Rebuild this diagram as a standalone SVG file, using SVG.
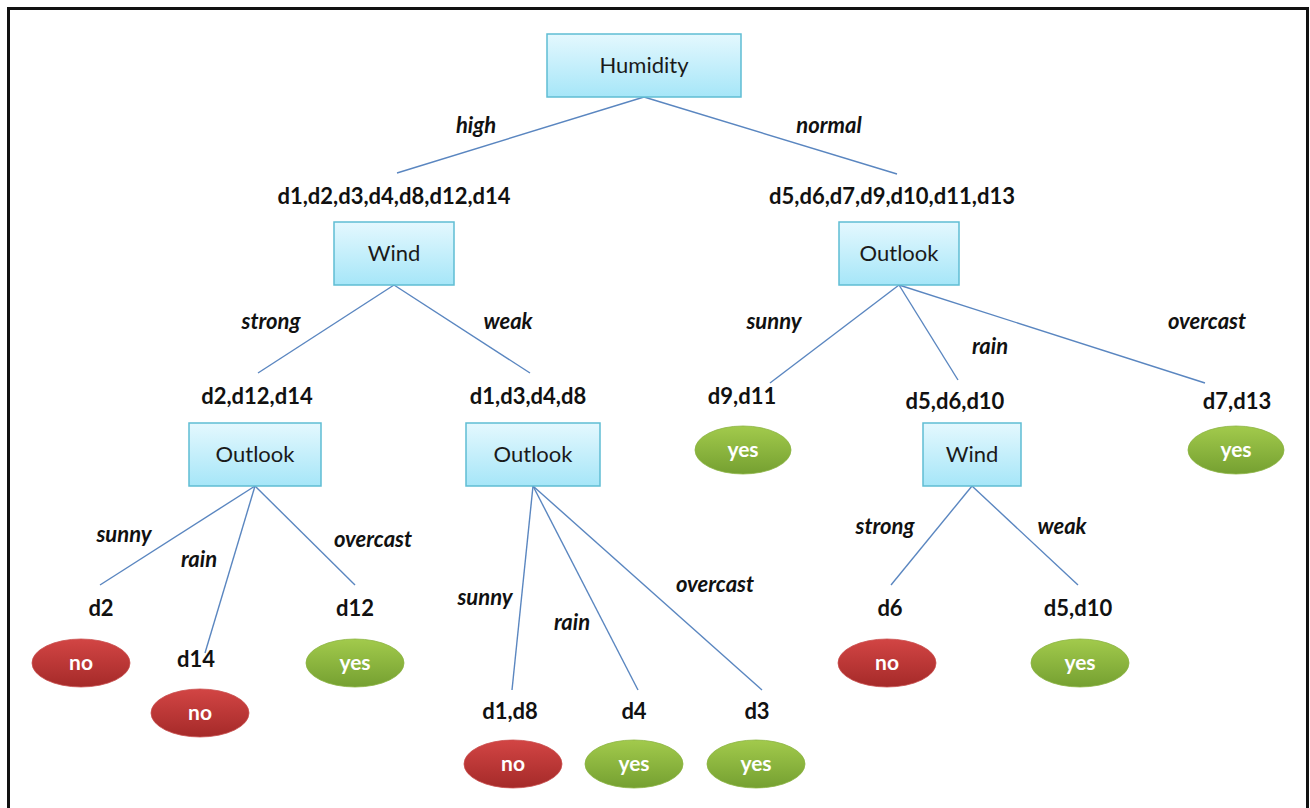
<svg xmlns="http://www.w3.org/2000/svg" width="1310" height="808" viewBox="0 0 1310 808">
  <defs>
    <linearGradient id="boxFill" x1="0" y1="0" x2="0" y2="1">
      <stop offset="0" stop-color="#e4f8fe"/>
      <stop offset="1" stop-color="#a6e6f8"/>
    </linearGradient>
    <linearGradient id="noFill" x1="0" y1="0" x2="0" y2="1">
      <stop offset="0" stop-color="#d24544"/>
      <stop offset="1" stop-color="#a52a29"/>
    </linearGradient>
    <linearGradient id="yesFill" x1="0" y1="0" x2="0" y2="1">
      <stop offset="0" stop-color="#a2ca4c"/>
      <stop offset="1" stop-color="#75a031"/>
    </linearGradient>
    <style>
      .box { fill: url(#boxFill); stroke: #5fbdd3; stroke-width: 1.5; }
      .btxt { font-family: Lato, "Open Sans", sans-serif; font-size: 22px; fill: #1a1a1a; text-anchor: middle; }
      .set { font-family: Lato, "Open Sans", sans-serif; font-size: 22px; font-weight: bold; fill: #111; text-anchor: middle; }
      .edge { font-family: Lato, "Open Sans", sans-serif; font-size: 22px; font-weight: bold; font-style: italic; fill: #111; text-anchor: middle; }
      .no { fill: url(#noFill); stroke: #c9504f; stroke-width: 0.8; }
      .yes { fill: url(#yesFill); stroke: #8bb443; stroke-width: 0.8; }
      .ltxt { font-family: Lato, "Open Sans", sans-serif; font-size: 21px; font-weight: bold; fill: #fff; text-anchor: middle; }
      .conn line { stroke: #5a86c0; stroke-width: 1.4; }
    </style>
  </defs>

  <rect width="1310" height="808" fill="#fff"/>
  <rect x="8.5" y="8.5" width="1299" height="830" fill="none" stroke="#111" stroke-width="3"/>

  <!-- connectors -->
  <g class="conn">
    <line x1="644" y1="97" x2="397" y2="173"/>
    <line x1="644" y1="97" x2="897" y2="174"/>
    <line x1="394" y1="285" x2="258" y2="373"/>
    <line x1="394" y1="285" x2="530" y2="373"/>
    <line x1="899" y1="285" x2="770" y2="383"/>
    <line x1="899" y1="285" x2="958" y2="380"/>
    <line x1="899" y1="285" x2="1205" y2="383"/>
    <line x1="255" y1="486" x2="100" y2="585"/>
    <line x1="255" y1="486" x2="205" y2="653"/>
    <line x1="255" y1="486" x2="355" y2="585"/>
    <line x1="533" y1="486" x2="512" y2="690"/>
    <line x1="533" y1="486" x2="638" y2="690"/>
    <line x1="533" y1="486" x2="762" y2="690"/>
    <line x1="972" y1="486" x2="891" y2="585"/>
    <line x1="972" y1="486" x2="1078" y2="585"/>
  </g>

  <!-- branch labels -->
  <g id="edge-labels">
    <text class="edge" x="476" y="133">high</text>
    <text class="edge" x="829" y="133">normal</text>
    <text class="edge" x="271" y="329">strong</text>
    <text class="edge" x="508" y="329">weak</text>
    <text class="edge" x="774" y="329">sunny</text>
    <text class="edge" x="990" y="354">rain</text>
    <text class="edge" x="1207" y="329">overcast</text>
    <text class="edge" x="124" y="542">sunny</text>
    <text class="edge" x="199" y="567">rain</text>
    <text class="edge" x="373" y="547">overcast</text>
    <text class="edge" x="485" y="605">sunny</text>
    <text class="edge" x="572" y="630">rain</text>
    <text class="edge" x="715" y="592">overcast</text>
    <text class="edge" x="885" y="534">strong</text>
    <text class="edge" x="1062" y="534">weak</text>
  </g>

  <!-- example sets -->
  <g id="sets">
    <text class="set" x="394" y="204">d1,d2,d3,d4,d8,d12,d14</text>
    <text class="set" x="892" y="204">d5,d6,d7,d9,d10,d11,d13</text>
    <text class="set" x="257" y="404">d2,d12,d14</text>
    <text class="set" x="528" y="404">d1,d3,d4,d8</text>
    <text class="set" x="742" y="404">d9,d11</text>
    <text class="set" x="955" y="409">d5,d6,d10</text>
    <text class="set" x="1237" y="409">d7,d13</text>
    <text class="set" x="101" y="616">d2</text>
    <text class="set" x="196" y="667">d14</text>
    <text class="set" x="355" y="616">d12</text>
    <text class="set" x="510" y="719">d1,d8</text>
    <text class="set" x="634" y="719">d4</text>
    <text class="set" x="757" y="719">d3</text>
    <text class="set" x="890" y="616">d6</text>
    <text class="set" x="1078" y="616">d5,d10</text>
  </g>

  <!-- attribute nodes -->
  <g id="humidity"><rect class="box" x="547" y="34" width="194" height="63"/><text class="btxt" x="644" y="73">Humidity</text></g>
  <g id="wind-high"><rect class="box" x="334" y="222" width="120" height="63"/><text class="btxt" x="394" y="261">Wind</text></g>
  <g id="outlook-normal"><rect class="box" x="839" y="222" width="120" height="63"/><text class="btxt" x="899" y="261">Outlook</text></g>
  <g id="outlook-strong"><rect class="box" x="189" y="423" width="132" height="63"/><text class="btxt" x="255" y="462">Outlook</text></g>
  <g id="outlook-weak"><rect class="box" x="466" y="423" width="134" height="63"/><text class="btxt" x="533" y="462">Outlook</text></g>
  <g id="wind-rain"><rect class="box" x="923" y="423" width="98" height="63"/><text class="btxt" x="972" y="462">Wind</text></g>

  <!-- leaves -->
  <g id="leaf-d9-d11"><ellipse class="yes" cx="743" cy="450" rx="48" ry="24"/><text class="ltxt" x="743" y="457">yes</text></g>
  <g id="leaf-d7-d13"><ellipse class="yes" cx="1236" cy="450" rx="48" ry="24"/><text class="ltxt" x="1236" y="457">yes</text></g>
  <g id="leaf-d2"><ellipse class="no" cx="81" cy="663" rx="49" ry="24"/><text class="ltxt" x="81" y="670">no</text></g>
  <g id="leaf-d14"><ellipse class="no" cx="200" cy="713" rx="49" ry="24"/><text class="ltxt" x="200" y="720">no</text></g>
  <g id="leaf-d12"><ellipse class="yes" cx="355" cy="663" rx="49" ry="24"/><text class="ltxt" x="355" y="670">yes</text></g>
  <g id="leaf-d1-d8"><ellipse class="no" cx="513" cy="764" rx="49" ry="24"/><text class="ltxt" x="513" y="771">no</text></g>
  <g id="leaf-d4"><ellipse class="yes" cx="634" cy="764" rx="49" ry="24"/><text class="ltxt" x="634" y="771">yes</text></g>
  <g id="leaf-d3"><ellipse class="yes" cx="756" cy="764" rx="49" ry="24"/><text class="ltxt" x="756" y="771">yes</text></g>
  <g id="leaf-d6"><ellipse class="no" cx="887" cy="663" rx="49" ry="24"/><text class="ltxt" x="887" y="670">no</text></g>
  <g id="leaf-d5-d10"><ellipse class="yes" cx="1080" cy="663" rx="49" ry="24"/><text class="ltxt" x="1080" y="670">yes</text></g>
</svg>
